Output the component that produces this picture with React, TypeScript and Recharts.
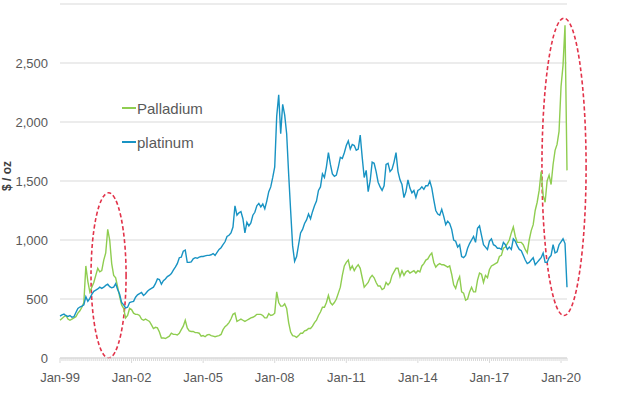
import React from "react";
import {
  LineChart,
  Line,
  XAxis,
  YAxis,
  CartesianGrid,
  Legend,
  ReferenceArea,
} from "recharts";

// Monthly samples starting Jan 1999 (last points densify the Feb–Mar 2020 move)
const startYear = 1999;

const platinum = [
  // 1999
  355, 365, 372, 358, 352, 360, 345, 350, 385, 420, 432, 440,
  // 2000
  450, 520, 480, 505, 540, 565, 575, 585, 600, 590, 600, 615,
  // 2001
  625, 605, 595, 600, 630, 580, 540, 470, 450, 425, 430, 470,
  // 2002
  475, 480, 515, 535, 545, 555, 530, 545, 565, 580, 590, 600,
  // 2003
  630, 670, 665, 625, 655, 670, 690, 700, 715, 745, 770, 800,
  // 2004
  850, 855, 905, 915, 810, 810, 815, 840, 850, 845, 855, 860,
  // 2005
  860, 865, 870, 870, 875, 885, 870, 895, 920, 935, 960, 985,
  // 2006
  1030, 1040, 1060, 1110, 1290, 1210, 1230, 1240, 1180, 1060, 1150, 1120,
  // 2007
  1145, 1210, 1235, 1290, 1310, 1280, 1305, 1265, 1330, 1410, 1450, 1530,
  // 2008
  1620, 2050, 2230, 1900, 2150, 2060, 1900, 1560, 1250, 950, 820, 860,
  // 2009
  960, 1060, 1090, 1140, 1170, 1220, 1180, 1240, 1290, 1330, 1420, 1450,
  // 2010
  1560, 1530, 1620, 1740, 1640, 1560, 1540, 1550, 1620, 1700, 1690, 1740,
  // 2011
  1800, 1840, 1770, 1810, 1800, 1760, 1770, 1890, 1700, 1530, 1590, 1410,
  // 2012
  1500, 1660, 1650, 1580, 1490, 1450, 1420, 1460, 1640, 1650, 1580, 1600,
  // 2013
  1660, 1740, 1580, 1510, 1470, 1360, 1410, 1510, 1440, 1400, 1420, 1360,
  // 2014
  1420, 1430, 1450, 1430, 1460, 1460, 1500, 1440, 1340, 1250, 1220, 1210,
  // 2015
  1260, 1200, 1130, 1160, 1140, 1090, 1000, 990, 940, 960, 860, 850,
  // 2016
  870, 930, 970, 1000, 1030, 980, 1100, 1120, 1040, 960, 940, 920,
  // 2017
  990, 1010, 960, 950, 930, 930, 920, 980, 960, 920, 940, 920,
  // 2018
  1010, 990, 950, 920, 910, 870, 830, 800, 810, 830, 850, 790,
  // 2019
  810, 830, 850, 890, 810, 810, 850, 870, 960, 890, 900, 960,
  // 2020
  985, 1010, 970, 600,
];

const palladium = [
  // 1999
  320, 335, 350, 360, 330, 320, 330, 340, 350, 380, 400, 430,
  // 2000
  470, 780, 650, 560, 600, 640, 700, 760, 730, 740, 830, 890,
  // 2001
  1090, 1000, 800, 700, 680, 600, 520, 450, 420, 340, 360, 420,
  // 2002
  410, 380, 370, 370, 360, 330, 320, 330, 320, 310, 280, 250,
  // 2003
  260, 255, 220, 170, 170, 165, 175, 185, 210, 200, 200, 195,
  // 2004
  210, 240, 270, 320, 255, 230, 225, 225, 215, 215, 210, 185,
  // 2005
  190, 180, 195, 200, 190, 185, 180, 185, 190, 200, 240, 265,
  // 2006
  280, 300, 330, 370, 380, 310, 320, 330, 320, 310, 320, 330,
  // 2007
  340, 345, 355, 370, 370, 370, 360, 340, 340, 375, 360, 365,
  // 2008
  380, 560, 470, 440, 440, 460, 420, 300, 220, 190, 185, 175,
  // 2009
  190, 210, 210, 230, 235, 250, 250, 270, 300, 320, 360, 390,
  // 2010
  430, 430, 470, 530, 470, 450, 470, 500, 550, 600, 700, 780,
  // 2011
  810, 830, 750, 780, 740, 770, 790, 760, 680, 600, 620, 640,
  // 2012
  680, 700, 680, 640, 610, 610, 580, 590, 640, 620, 640, 700,
  // 2013
  730, 760, 760, 690, 740, 700, 730, 740, 720, 730, 740, 720,
  // 2014
  740, 730, 780, 800, 830, 840, 870, 890, 810, 770, 790, 800,
  // 2015
  790, 790, 780, 770, 780, 710, 620, 590, 650, 690, 560, 550,
  // 2016
  490, 500, 560, 600, 560, 560, 660, 720, 710, 640, 700, 680,
  // 2017
  750, 780, 790, 800, 810, 860, 870, 930, 940, 970, 1000, 1060,
  // 2018
  1110, 1030, 980, 980, 980, 960, 920, 890, 1000, 1080, 1130, 1250,
  // 2019
  1320, 1420, 1580, 1380, 1320, 1500, 1550, 1470, 1640, 1760, 1810, 1920,
  // 2020
  2300, 2480, 2820, 1590,
];

const yTicks = [0, 500, 1000, 1500, 2000, 2500];
const majorYears = [1999, 2002, 2005, 2008, 2011, 2014, 2017, 2020];
const majorLabels = ["Jan-99", "Jan-02", "Jan-05", "Jan-08", "Jan-11", "Jan-14", "Jan-17", "Jan-20"];

const data = platinum.map((p, i) => ({
  t: startYear + i / 12,
  palladium: palladium[i],
  platinum: p,
}));

const monthTicks = data.map((d) => d.t);

const FONT = '"Liberation Sans", Arial, sans-serif';
const GREEN = "#8fcd50";
const BLUE = "#1893c3";
const RED = "#e2334a";
const GRID = "#d9d9d9";
const TEXT = "#595959";

const XTick = (props: any) => {
  const { x, y, payload } = props;
  const m = Math.round((payload.value - startYear) * 12);
  const yearIdx = majorYears.indexOf(startYear + m / 12);
  const major = yearIdx >= 0;
  return (
    <g>
      <line x1={x} x2={x} y1={y} y2={y + (major ? 5 : 3)} stroke={GRID} strokeWidth={1} />
      {major && (
        <text x={x} y={y + 24} textAnchor="middle" fill={TEXT} fontSize={13} fontFamily={FONT}>
          {majorLabels[yearIdx]}
        </text>
      )}
    </g>
  );
};

const EllipseShape = (props: any) => {
  const { x, y, width, height } = props;
  return (
    <ellipse
      cx={x + width / 2}
      cy={y + height / 2}
      rx={Math.abs(width) / 2}
      ry={Math.abs(height) / 2}
      fill="none"
      stroke={RED}
      strokeWidth={1.6}
      strokeDasharray="4 2.5"
    />
  );
};

const renderLegend = (props: any) => {
  const { payload } = props;
  return (
    <div>
      {(payload || []).map((p: any) => (
        <div key={p.value} style={{ display: "flex", alignItems: "center", height: 34 }}>
          <span style={{ display: "inline-block", width: 14, height: 1.5, background: p.color, marginRight: 1 }} />
          <span style={{ fontFamily: FONT, fontSize: 15, color: TEXT, lineHeight: "15px" }}>{p.value}</span>
        </div>
      ))}
    </div>
  );
};

const YLabel = () => (
  <text
    x={11}
    y={176}
    transform="rotate(-90, 11, 176)"
    textAnchor="middle"
    fill="#404040"
    fontSize={12}
    fontWeight="bold"
    fontFamily={FONT}
  >
    $ / oz
  </text>
);

export default function App() {
  return (
    <div style={{ width: 640, height: 399, position: "relative" }}>
      <style>{`body{margin:0;}`}</style>
      <LineChart
        width={640}
        height={399}
        data={data}
        margin={{ top: 4, right: 73, bottom: 11, left: 0 }}
      >
        <CartesianGrid vertical={false} stroke={GRID} />
        <XAxis
          dataKey="t"
          type="number"
          domain={[1999, 2020.25]}
          ticks={monthTicks}
          interval={0}
          tick={<XTick />}
          tickLine={false}
          tickSize={0}
          tickMargin={0}
          axisLine={{ stroke: GRID }}
          height={30}
        />
        <YAxis
          domain={[0, 3000]}
          ticks={yTicks}
          tickFormatter={(v: number) => v.toLocaleString("en-US")}
          axisLine={false}
          tickLine={false}
          tickSize={0}
          tickMargin={12}
          width={60}
          tick={{ fill: TEXT, fontSize: 13, fontFamily: FONT }}
          label={<YLabel />}
        />
        <Legend
          layout="vertical"
          align="center"
          verticalAlign="middle"
          content={renderLegend}
          wrapperStyle={{ position: "absolute", left: 122, top: 91, width: 120, height: 68 }}
        />
        <Line
          type="linear"
          dataKey="palladium"
          name="Palladium"
          stroke={GREEN}
          strokeWidth={1.4}
          dot={false}
          isAnimationActive={false}
        />
        <Line
          type="linear"
          dataKey="platinum"
          name="platinum"
          stroke={BLUE}
          strokeWidth={1.4}
          dot={false}
          isAnimationActive={false}
        />
        <ReferenceArea
          x1={2000.3}
          x2={2001.77}
          y1={0}
          y2={1400}
          ifOverflow="visible"
          shape={<EllipseShape />}
        />
        <ReferenceArea
          x1={2019.2}
          x2={2021.05}
          y1={360}
          y2={2880}
          ifOverflow="visible"
          shape={<EllipseShape />}
        />
      </LineChart>
    </div>
  );
}
